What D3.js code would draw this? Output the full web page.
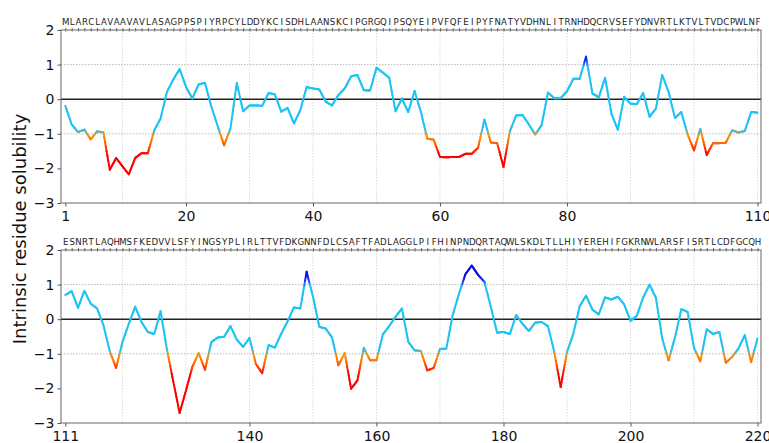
<!DOCTYPE html>
<html>
<head>
<meta charset="utf-8">
<script src="https://cdn.jsdelivr.net/npm/d3@7"></script>
<style>
body{margin:0;background:#fff;}
text{font-family:"DejaVu Sans",sans-serif;}
</style>
</head>
<body>
<div id="chart"></div>
<script>
// Sequence (categories) for each panel
var seqTop = "MLARCLAVAAVAVLASAGPPSPIYRPCYLDDYKCISDHLAANSKCIPGRGQIPSQYEIPVFQFEIPYFNATYVDHNLITRNHDQCRVSEFYDNVRTLKTVLTVDCPWLNF";
var seqBottom = "ESNRTLAQHMSFKEDVVLSFYINGSYPLIRLTTVFDKGNNFDLCSAFTFADLAGGLPIFHINPNDQRTAQWLSKDLTLLHIYEREHIFGKRNWLARSFISRTLCDFGCQH";

// Solubility values, residues 1-110 and 111-220
var valuesTop = [
  -0.19, -0.73, -0.95, -0.88, -1.16, -0.93, -0.96, -2.04, -1.70, -1.94,
  -2.17, -1.70, -1.56, -1.56, -0.90, -0.56, 0.21, 0.57, 0.87, 0.36,
  0.02, 0.43, 0.47, -0.22, -0.78, -1.33, -0.85, 0.47, -0.35, -0.18,
  -0.18, -0.19, 0.18, 0.14, -0.36, -0.25, -0.70, -0.32, 0.35, 0.31,
  0.28, -0.07, -0.18, 0.12, 0.31, 0.66, 0.70, 0.26, 0.25, 0.91,
  0.77, 0.62, -0.35, 0.02, -0.37, 0.24, -0.37, -1.14, -1.17, -1.67,
  -1.68, -1.67, -1.67, -1.58, -1.58, -1.40, -0.59, -1.25, -1.27, -1.96,
  -0.93, -0.47, -0.46, -0.73, -1.02, -0.75, 0.19, 0.03, 0.03, 0.23,
  0.59, 0.59, 1.23, 0.17, 0.05, 0.62, -0.42, -0.88, 0.07, -0.13,
  -0.14, 0.18, -0.51, -0.27, 0.70, 0.21, -0.54, -0.37, -1.02, -1.48,
  -0.86, -1.61, -1.27, -1.27, -1.26, -0.90, -0.96, -0.92, -0.37, -0.39
];
var valuesBottom = [
  0.70, 0.81, 0.33, 0.82, 0.45, 0.31, -0.17, -0.93, -1.41, -0.66,
  -0.13, 0.36, -0.08, -0.37, -0.43, 0.23, -0.87, -1.80, -2.71, -2.06,
  -1.38, -0.98, -1.46, -0.66, -0.53, -0.51, -0.20, -0.59, -0.80, -0.54,
  -1.29, -1.56, -0.75, -0.82, -0.42, -0.06, 0.34, 0.31, 1.37, 0.65,
  -0.22, -0.27, -0.53, -1.33, -0.98, -2.01, -1.77, -0.83, -1.19, -1.19,
  -0.44, -0.20, 0.07, 0.31, -0.65, -0.90, -0.92, -1.48, -1.41, -0.86,
  -0.85, 0.12, 0.74, 1.30, 1.55, 1.28, 1.08, 0.36, -0.39, -0.37,
  -0.43, 0.12, -0.14, -0.34, -0.10, -0.08, -0.20, -0.95, -1.96, -0.95,
  -0.42, 0.38, 0.68, 0.28, 0.14, 0.63, 0.57, 0.65, 0.43, -0.05,
  0.10, 0.63, 1.00, 0.62, -0.56, -1.19, -0.53, 0.29, 0.21, -0.83,
  -1.22, -0.29, -0.43, -0.37, -1.26, -1.09, -0.85, -0.46, -1.24, -0.56
];

// Tick labels
var xLabelsTop = [1, 20, 40, 60, 80, 110];
var xLabelsBottom = [111, 140, 160, 180, 200, 220];
var yTicks = [-3, -2, -1, 0, 1, 2];

var Profile = (function(){

    var sizes = {width: 769, height: 443},
        left = 61, right = 761, panelH = 173;

    var svg = d3.select('#chart')
                .append('svg')
                .attr('width', sizes.width)
                .attr('height', sizes.height);

    // value -> colour, cyan in the soluble range, orange/red below, blue above
    var colour = d3.scaleLinear()
        .domain([-1.6, -1.25, -1.05, -0.88, 0.97, 1.08, 1.3])
        .range(['#ff0000', '#ff6a00', '#ff9400', '#1ec3f3', '#1ec3f3', '#2a3cff', '#0a0ae0'])
        .clamp(true);

    var drawPanel = function(top, seq, values, labels){
        var first = labels[0],
            last = labels[labels.length - 1],
            residues = d3.range(first, last + 1);

        var x = d3.scaleLinear().domain([first - 0.68, last + 0.55]).range([left, right]),
            y = d3.scaleLinear().domain([-3, 2]).range([top + panelH, top]);

        var g = svg.append('g');

        // vertical grid every 10 residues
        var gridX = d3.range(Math.ceil(first / 10) * 10, last + 1, 10);
        g.selectAll('.vgrid')
            .data(gridX)
            .enter()
            .append('line')
            .attr('x1', function(d){return x(d);})
            .attr('x2', function(d){return x(d);})
            .attr('y1', top)
            .attr('y2', top + panelH)
            .style('stroke', '#d0d0d0')
            .style('stroke-width', 0.8)
            .style('stroke-dasharray', '1.5,1.5');

        g.selectAll('.hgrid')
            .data([-1, 1])
            .enter()
            .append('line')
            .attr('x1', left)
            .attr('x2', right)
            .attr('y1', function(d){return y(d);})
            .attr('y2', function(d){return y(d);})
            .style('stroke', '#a8a8a8')
            .style('stroke-width', 0.8)
            .style('stroke-dasharray', '1.5,1.5');

        g.append('line')
            .attr('x1', left).attr('x2', right)
            .attr('y1', y(0)).attr('y2', y(0))
            .style('stroke', '#222')
            .style('stroke-width', 1.6);

        // profile line, split in small pieces coloured by value
        var pieces = [], K = 8;
        for (var i = 0; i < values.length - 1; i++){
            for (var k = 0; k < K; k++){
                var t0 = k / K, t1 = (k + 1) / K,
                    r0 = residues[i] + t0, r1 = residues[i] + t1,
                    v0 = values[i] + (values[i + 1] - values[i]) * t0,
                    v1 = values[i] + (values[i + 1] - values[i]) * t1;
                pieces.push({r0: r0, r1: r1, v0: v0, v1: v1});
            }
        }
        g.selectAll('.piece')
            .data(pieces)
            .enter()
            .append('line')
            .attr('x1', function(d){return x(d.r0);})
            .attr('x2', function(d){return x(d.r1);})
            .attr('y1', function(d){return y(d.v0);})
            .attr('y2', function(d){return y(d.v1);})
            .style('stroke', function(d){return colour((d.v0 + d.v1) / 2);})
            .style('stroke-width', 2)
            .style('stroke-linecap', 'round');

        // frame
        g.append('rect')
            .attr('x', left).attr('y', top)
            .attr('width', right - left).attr('height', panelH)
            .style('fill', 'none')
            .style('stroke', '#666')
            .style('stroke-width', 1);

        // axes
        var xAxis = g.append('g')
            .attr('transform', 'translate(0,' + (top + panelH) + ')')
            .call(d3.axisBottom(x).tickValues(labels).tickFormat(d3.format('d'))
                  .tickSize(3.5).tickSizeOuter(0).tickPadding(5));
        xAxis.select('.domain').remove();
        xAxis.selectAll('text').style('font-size', '14px').style('fill', '#111');
        xAxis.selectAll('line').style('stroke', '#555');

        var seqAxis = g.append('g')
            .attr('transform', 'translate(0,' + top + ')')
            .call(d3.axisTop(x).tickValues(residues)
                  .tickFormat(function(d){return seq.charAt(d - first);})
                  .tickSize(2).tickSizeOuter(0).tickPadding(3));
        seqAxis.select('.domain').remove();
        seqAxis.selectAll('text').style('font-size', '8.6px').style('fill', '#222');
        seqAxis.selectAll('line').style('stroke', '#666').attr('y1', 1.5);

        var yAxis = g.append('g')
            .attr('transform', 'translate(' + left + ',0)')
            .call(d3.axisLeft(y).tickValues(yTicks).tickFormat(d3.format('d'))
                  .tickSize(3.5).tickSizeOuter(0).tickPadding(3));
        yAxis.select('.domain').remove();
        yAxis.selectAll('text').style('font-size', '14px').style('fill', '#111');
        yAxis.selectAll('line').style('stroke', '#555');
    };

    drawPanel(30, seqTop, valuesTop, xLabelsTop);
    drawPanel(250, seqBottom, valuesBottom, xLabelsBottom);

    svg.append('text')
        .attr('transform', 'translate(26,229) rotate(-90)')
        .attr('text-anchor', 'middle')
        .style('font-size', '18px')
        .style('fill', '#111')
        .text('Intrinsic residue solubility');

    return {svg: svg};
}());
</script>
</body>
</html>
